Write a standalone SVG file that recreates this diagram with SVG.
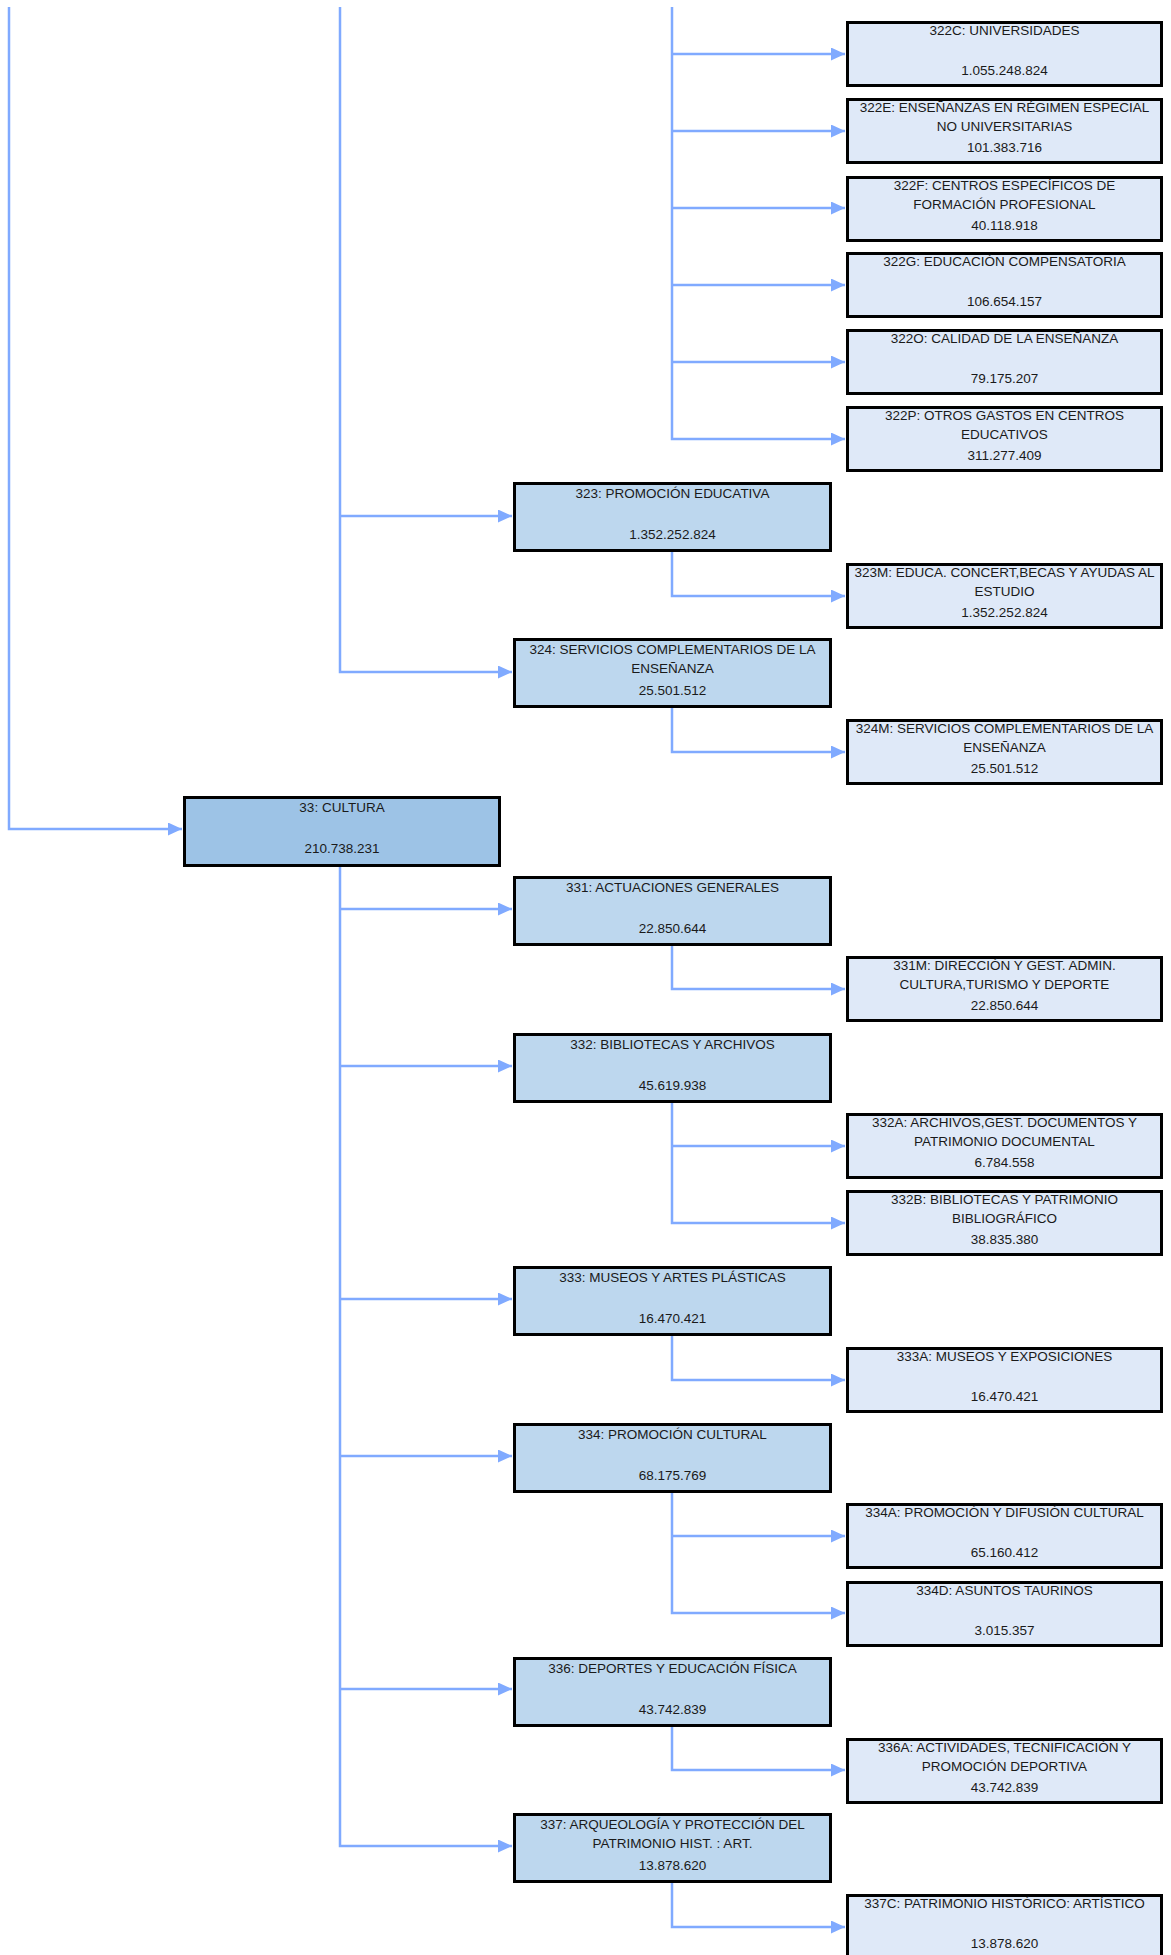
<svg xmlns="http://www.w3.org/2000/svg" width="1171" height="1955" viewBox="0 0 1171 1955">
<defs>
<style>
.c{fill:none;stroke:#80AAFF;stroke-width:2.5;marker-end:url(#ah)}
.b1{fill:#9DC3E6;stroke:#000;stroke-width:3}
.b2{fill:#BDD7EE;stroke:#000;stroke-width:3}
.b3{fill:#DFE9F8;stroke:#000;stroke-width:3}
text{font-family:"Liberation Sans",Arial,sans-serif;font-size:13.5px;fill:#1a1a1a;text-anchor:middle}
</style>
<marker id="ah" markerUnits="userSpaceOnUse" markerWidth="15" markerHeight="13" refX="14" refY="6.5" orient="auto">
<path d="M0,0 L14,6.5 L0,13 z" fill="#80AAFF"/>
</marker>
</defs>
<rect width="1171" height="1955" fill="#fff"/>
<g id="connectors">
<path class="c" d="M9,7 V829 H182"/>
<path class="c" d="M340,7 V672 H512"/>
<path class="c" d="M340,516 H512"/>
<path class="c" d="M672,7 V439 H845"/>
<path class="c" d="M672,54 H845"/>
<path class="c" d="M672,131 H845"/>
<path class="c" d="M672,208 H845"/>
<path class="c" d="M672,285 H845"/>
<path class="c" d="M672,362 H845"/>
<path class="c" d="M672,552 V596 H845"/>
<path class="c" d="M672,708 V752 H845"/>
<path class="c" d="M340,867 V1846 H512"/>
<path class="c" d="M340,909 H512"/>
<path class="c" d="M340,1066 H512"/>
<path class="c" d="M340,1299 H512"/>
<path class="c" d="M340,1456 H512"/>
<path class="c" d="M340,1689 H512"/>
<path class="c" d="M672,945 V989 H845"/>
<path class="c" d="M672,1102 V1223 H845"/>
<path class="c" d="M672,1146 H845"/>
<path class="c" d="M672,1336 V1380 H845"/>
<path class="c" d="M672,1492 V1613 H845"/>
<path class="c" d="M672,1536 H845"/>
<path class="c" d="M672,1726 V1770 H845"/>
<path class="c" d="M672,1882 V1927 H845"/>
</g>

<g id="n322C"><rect class="b3" x="847.5" y="22.5" width="314" height="63"/><text x="1004.5" y="35">322C: UNIVERSIDADES</text><text x="1004.5" y="75">1.055.248.824</text></g>
<g id="n322E"><rect class="b3" x="847.5" y="99.5" width="314" height="63"/><text x="1004.5" y="112">322E: ENSEÑANZAS EN RÉGIMEN ESPECIAL</text><text x="1004.5" y="131">NO UNIVERSITARIAS</text><text x="1004.5" y="152">101.383.716</text></g>
<g id="n322F"><rect class="b3" x="847.5" y="177.5" width="314" height="63"/><text x="1004.5" y="190">322F: CENTROS ESPECÍFICOS DE</text><text x="1004.5" y="209">FORMACIÓN PROFESIONAL</text><text x="1004.5" y="230">40.118.918</text></g>
<g id="n322G"><rect class="b3" x="847.5" y="253.5" width="314" height="63"/><text x="1004.5" y="266">322G: EDUCACIÓN COMPENSATORIA</text><text x="1004.5" y="306">106.654.157</text></g>
<g id="n322O"><rect class="b3" x="847.5" y="330.5" width="314" height="63"/><text x="1004.5" y="343">322O: CALIDAD DE LA ENSEÑANZA</text><text x="1004.5" y="383">79.175.207</text></g>
<g id="n322P"><rect class="b3" x="847.5" y="407.5" width="314" height="63"/><text x="1004.5" y="420">322P: OTROS GASTOS EN CENTROS</text><text x="1004.5" y="439">EDUCATIVOS</text><text x="1004.5" y="460">311.277.409</text></g>

<g id="n323"><rect class="b2" x="514.5" y="483.5" width="316" height="67"/><text x="672.5" y="498">323: PROMOCIÓN EDUCATIVA</text><text x="672.5" y="539">1.352.252.824</text></g>
<g id="n323M"><rect class="b3" x="847.5" y="564.5" width="314" height="63"/><text x="1004.5" y="577">323M: EDUCA. CONCERT,BECAS Y AYUDAS AL</text><text x="1004.5" y="596">ESTUDIO</text><text x="1004.5" y="617">1.352.252.824</text></g>
<g id="n324"><rect class="b2" x="514.5" y="639.5" width="316" height="67"/><text x="672.5" y="654">324: SERVICIOS COMPLEMENTARIOS DE LA</text><text x="672.5" y="673">ENSEÑANZA</text><text x="672.5" y="695">25.501.512</text></g>
<g id="n324M"><rect class="b3" x="847.5" y="720.5" width="314" height="63"/><text x="1004.5" y="733">324M: SERVICIOS COMPLEMENTARIOS DE LA</text><text x="1004.5" y="752">ENSEÑANZA</text><text x="1004.5" y="773">25.501.512</text></g>

<g id="n33"><rect class="b1" x="184.5" y="797.5" width="315" height="68"/><text x="342" y="812">33: CULTURA</text><text x="342" y="853">210.738.231</text></g>

<g id="n331"><rect class="b2" x="514.5" y="877.5" width="316" height="67"/><text x="672.5" y="892">331: ACTUACIONES GENERALES</text><text x="672.5" y="933">22.850.644</text></g>
<g id="n331M"><rect class="b3" x="847.5" y="957.5" width="314" height="63"/><text x="1004.5" y="970">331M: DIRECCIÓN Y GEST. ADMIN.</text><text x="1004.5" y="989">CULTURA,TURISMO Y DEPORTE</text><text x="1004.5" y="1010">22.850.644</text></g>
<g id="n332"><rect class="b2" x="514.5" y="1034.5" width="316" height="67"/><text x="672.5" y="1049">332: BIBLIOTECAS Y ARCHIVOS</text><text x="672.5" y="1090">45.619.938</text></g>
<g id="n332A"><rect class="b3" x="847.5" y="1114.5" width="314" height="63"/><text x="1004.5" y="1127">332A: ARCHIVOS,GEST. DOCUMENTOS Y</text><text x="1004.5" y="1146">PATRIMONIO DOCUMENTAL</text><text x="1004.5" y="1167">6.784.558</text></g>
<g id="n332B"><rect class="b3" x="847.5" y="1191.5" width="314" height="63"/><text x="1004.5" y="1204">332B: BIBLIOTECAS Y PATRIMONIO</text><text x="1004.5" y="1223">BIBLIOGRÁFICO</text><text x="1004.5" y="1244">38.835.380</text></g>
<g id="n333"><rect class="b2" x="514.5" y="1267.5" width="316" height="67"/><text x="672.5" y="1282">333: MUSEOS Y ARTES PLÁSTICAS</text><text x="672.5" y="1323">16.470.421</text></g>
<g id="n333A"><rect class="b3" x="847.5" y="1348.5" width="314" height="63"/><text x="1004.5" y="1361">333A: MUSEOS Y EXPOSICIONES</text><text x="1004.5" y="1401">16.470.421</text></g>
<g id="n334"><rect class="b2" x="514.5" y="1424.5" width="316" height="67"/><text x="672.5" y="1439">334: PROMOCIÓN CULTURAL</text><text x="672.5" y="1480">68.175.769</text></g>
<g id="n334A"><rect class="b3" x="847.5" y="1504.5" width="314" height="63"/><text x="1004.5" y="1517">334A: PROMOCIÓN Y DIFUSIÓN CULTURAL</text><text x="1004.5" y="1557">65.160.412</text></g>
<g id="n334D"><rect class="b3" x="847.5" y="1582.5" width="314" height="63"/><text x="1004.5" y="1595">334D: ASUNTOS TAURINOS</text><text x="1004.5" y="1635">3.015.357</text></g>
<g id="n336"><rect class="b2" x="514.5" y="1658.5" width="316" height="67"/><text x="672.5" y="1673">336: DEPORTES Y EDUCACIÓN FÍSICA</text><text x="672.5" y="1714">43.742.839</text></g>
<g id="n336A"><rect class="b3" x="847.5" y="1739.5" width="314" height="63"/><text x="1004.5" y="1752">336A: ACTIVIDADES, TECNIFICACIÓN Y</text><text x="1004.5" y="1771">PROMOCIÓN DEPORTIVA</text><text x="1004.5" y="1792">43.742.839</text></g>
<g id="n337"><rect class="b2" x="514.5" y="1814.5" width="316" height="67"/><text x="672.5" y="1829">337: ARQUEOLOGÍA Y PROTECCIÓN DEL</text><text x="672.5" y="1848">PATRIMONIO HIST. : ART.</text><text x="672.5" y="1870">13.878.620</text></g>
<g id="n337C"><rect class="b3" x="847.5" y="1895.5" width="314" height="63"/><text x="1004.5" y="1908">337C: PATRIMONIO HISTÓRICO: ARTÍSTICO</text><text x="1004.5" y="1948">13.878.620</text></g>
</svg>
